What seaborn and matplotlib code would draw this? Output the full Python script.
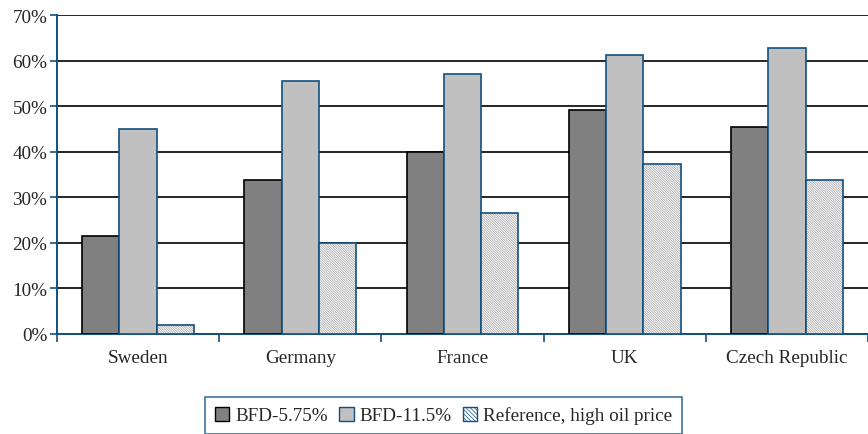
import pandas as pd
import seaborn as sns
import matplotlib.pyplot as plt
from matplotlib.patches import Patch, Rectangle
from matplotlib.ticker import PercentFormatter

# Data (percent)
countries = ['Sweden', 'Germany', 'France', 'UK', 'Czech Republic']
scenarios = ['BFD-5.75%', 'BFD-11.5%', 'Reference, high oil price']
bfd_575 = [21.5, 33.8, 40.0, 49.2, 45.4]
bfd_115 = [45.0, 55.5, 57.0, 61.2, 62.8]
ref_high_oil = [2.0, 20.0, 26.5, 37.3, 33.8]

data = pd.DataFrame({
    'Country': countries * 3,
    'Scenario': [scenarios[0]] * 5 + [scenarios[1]] * 5 + [scenarios[2]] * 5,
    'Share': bfd_575 + bfd_115 + ref_high_oil,
})

sns.set_style("white")
plt.rcParams['font.family'] = ['Liberation Serif', 'DejaVu Serif']
plt.rcParams['hatch.linewidth'] = 0.5

blue = '#12507f'
dark = '#808080'
light = '#c0c0c0'
hatch_grey = '#a0a0a0'
fine_hatch = '\\' * 14
fs = 13.8

fig = plt.figure(figsize=(8.68, 4.35), dpi=100)
ax = fig.add_axes([0.0657, 0.2299, 0.9343, 0.7333])

sns.barplot(data=data, x='Country', y='Share', hue='Scenario', order=countries,
            hue_order=scenarios, palette=[dark, light, 'white'], width=0.69,
            saturation=1, legend=False, ax=ax, zorder=3)

for p in ax.containers[0]:
    p.set_edgecolor('black')
    p.set_linewidth(1.2)
for p in ax.containers[1]:
    p.set_edgecolor(blue)
    p.set_linewidth(1.2)
for p in ax.containers[2]:
    p.set_facecolor('white')
    p.set_edgecolor(hatch_grey)
    p.set_hatch(fine_hatch)
    p.set_linewidth(0)
    ax.add_patch(Rectangle(p.get_xy(), p.get_width(), p.get_height(), fill=False,
                           edgecolor=blue, linewidth=1.2, zorder=4))

ax.set_ylim(0, 70)
ax.set_xlim(-0.5, 4.5)
ax.set_yticks(range(0, 71, 10))
ax.yaxis.set_major_formatter(PercentFormatter(decimals=0))
ax.grid(axis='y', color='black', linewidth=1.2, zorder=0)
ax.set_axisbelow(True)
ax.set_xlabel('')
ax.set_ylabel('')

ax.set_xticks([i - 0.5 for i in range(6)], minor=True)
ax.tick_params(axis='x', which='minor', length=6, color=blue, width=1.2, direction='out', bottom=True)
ax.tick_params(axis='x', which='major', length=0, labelsize=fs, pad=11)
ax.tick_params(axis='y', length=5, color=blue, width=1.2, direction='out', left=True,
               labelsize=fs, pad=2)

for side in ['top', 'right']:
    ax.spines[side].set_visible(False)
for side in ['left', 'bottom']:
    ax.spines[side].set_color(blue)
    ax.spines[side].set_linewidth(1.4)

handles = [
    Patch(facecolor=dark, edgecolor='black', linewidth=1.0),
    Patch(facecolor=light, edgecolor=blue, linewidth=1.0),
    Patch(facecolor='white', edgecolor=blue, linewidth=1.0, hatch='\\' * 8),
]
leg = fig.legend(handles, scenarios, loc='upper center', bbox_to_anchor=(0.511, 0.085),
                 borderaxespad=0, ncol=3, fontsize=fs, frameon=True, fancybox=False,
                 handlelength=0.75, handleheight=0.75, handletextpad=0.3,
                 columnspacing=0.6, borderpad=0.5)
leg.get_frame().set_edgecolor(blue)
leg.get_frame().set_linewidth(1.2)

plt.savefig('out.png', dpi=100)
